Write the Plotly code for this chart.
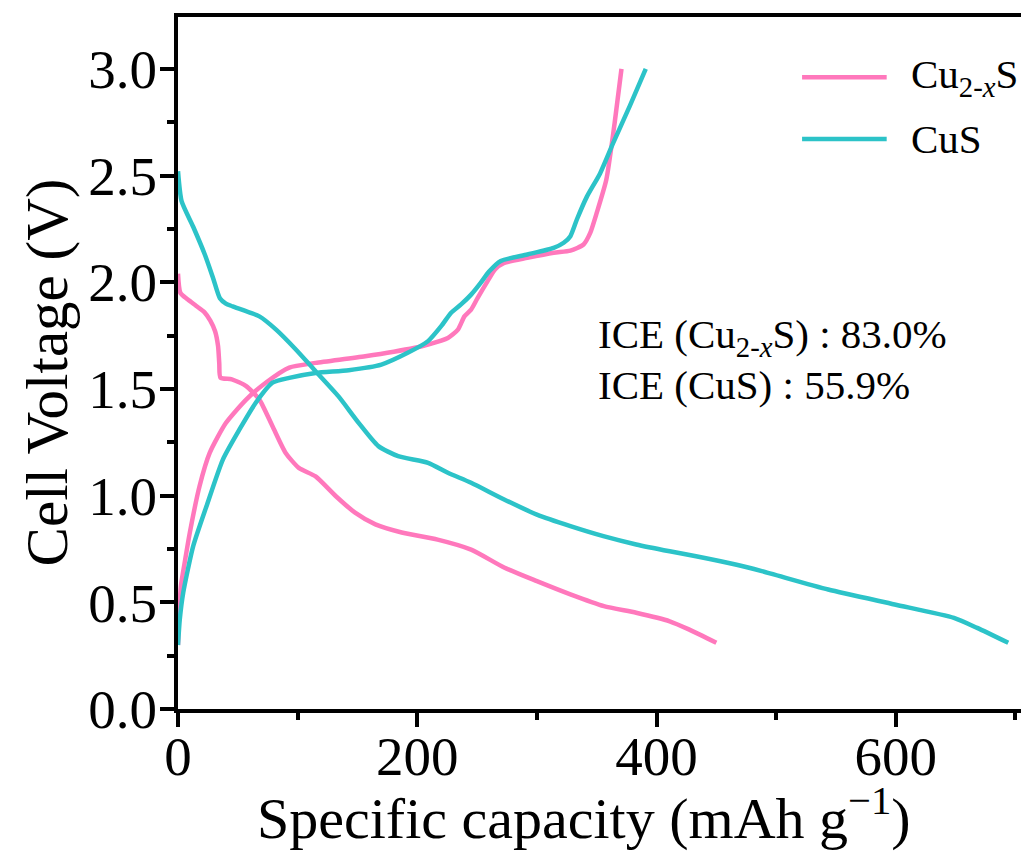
import plotly.graph_objects as go

# ---------------- data ----------------
series_names = ["Cu<sub>2-<i>x</i></sub>S", "CuS"]
series_colors = ["#FF78BC", "#2CC3C8"]

# Cu2-xS discharge
cu2xs_dis_cap = [0, 2, 8, 15, 22, 27, 31, 33.5, 34.5, 35.5, 45, 57, 68, 79, 90, 101, 115, 132,
                 148, 165, 187, 217, 245, 273, 300, 328, 356, 383, 411, 427, 450]
cu2xs_dis_v = [2.04, 1.95, 1.92, 1.89, 1.86, 1.82, 1.77, 1.70, 1.62, 1.553, 1.545, 1.513, 1.45,
               1.325, 1.20, 1.13, 1.09, 0.997, 0.92, 0.865, 0.827, 0.794, 0.747, 0.662, 0.599,
               0.537, 0.482, 0.451, 0.411, 0.373, 0.31]
# Cu2-xS charge
cu2xs_chg_cap = [0, 1, 2.5, 6, 10, 18, 26.5, 40, 57, 73.6, 93, 115, 156.5, 198, 209, 225.6, 234,
                 239.4, 245, 250.5, 258.8, 265, 272.6, 292, 314, 328, 339, 344.5, 350, 358, 365,
                 370.7]
cu2xs_chg_v = [0.30, 0.45, 0.58, 0.70, 0.83, 1.044, 1.20, 1.34, 1.45, 1.53, 1.60, 1.622, 1.653,
               1.693, 1.708, 1.739, 1.778, 1.84, 1.872, 1.927, 2.005, 2.06, 2.09, 2.114, 2.138,
               2.148, 2.177, 2.23, 2.325, 2.48, 2.747, 3.0]
# CuS discharge
cus_dis_cap = [0, 3, 12.7, 22.4, 29.3, 35, 40, 45.6, 68, 82, 98.5, 115, 134, 151, 167.5, 184, 209,
               225.6, 245, 272.6, 300, 328, 355.6, 383, 411, 433, 466, 488, 543.5, 599, 648.6,
               668, 694]
cus_dis_v = [2.52, 2.38, 2.26, 2.13, 2.02, 1.925, 1.90, 1.887, 1.84, 1.778, 1.685, 1.583, 1.466,
             1.341, 1.232, 1.185, 1.154, 1.107, 1.06, 0.982, 0.911, 0.857, 0.81, 0.771, 0.739,
             0.716, 0.677, 0.646, 0.56, 0.49, 0.427, 0.38, 0.31]
# CuS charge
cus_chg_cap = [0, 1.5, 4.4, 12.7, 23.8, 37.6, 51.4, 65, 79, 93, 115, 142.7, 170, 192, 209, 220,
               228.3, 236.6, 245, 253, 260, 269.8, 292, 314, 322.4, 328, 333.4, 341.7, 352.8,
               363.8, 377.6, 391]
cus_chg_v = [0.30, 0.42, 0.546, 0.763, 0.95, 1.17, 1.31, 1.435, 1.529, 1.552, 1.575, 1.588, 1.614,
             1.669, 1.724, 1.794, 1.857, 1.896, 1.942, 1.997, 2.05, 2.10, 2.13, 2.161, 2.185,
             2.216, 2.294, 2.40, 2.51, 2.653, 2.825, 3.0]

ice_texts = ["ICE (Cu<sub>2-<i>x</i></sub>S) : 83.0%", "ICE (CuS) : 55.9%"]
x_title = "Specific capacity (mAh g<sup>−1</sup>)"
y_title = "Cell Voltage (V)"
x_ticks = [0, 200, 400, 600]
y_ticks = [0.0, 0.5, 1.0, 1.5, 2.0, 2.5, 3.0]

FONT = "Liberation Serif, Times New Roman, serif"

fig = go.Figure()
curves = [
    (cu2xs_dis_cap, cu2xs_dis_v, 0),
    (cu2xs_chg_cap, cu2xs_chg_v, 0),
    (cus_dis_cap, cus_dis_v, 1),
    (cus_chg_cap, cus_chg_v, 1),
]
for xs, ys, idx in curves:
    fig.add_trace(go.Scatter(
        x=xs, y=ys, mode="lines",
        line=dict(color=series_colors[idx], width=4.5, shape="spline", smoothing=0.6),
        showlegend=False, hoverinfo="skip",
    ))

axis_common = dict(
    showline=True, linewidth=4, linecolor="black", mirror=True,
    ticks="outside", ticklen=14, tickwidth=4, tickcolor="black",
    showgrid=False, zeroline=False,
    tickfont=dict(family=FONT, size=55, color="black"),
)

fig.update_xaxes(
    range=[0, 708], tickvals=x_ticks, ticklabelstandoff=-18,
    minor=dict(dtick=100, ticks="outside", ticklen=7, tickwidth=4, tickcolor="black", tick0=0),
    **axis_common,
)
fig.update_yaxes(
    range=[0, 3.243], tickvals=y_ticks, tickformat=".1f", ticklabelstandoff=-8,
    minor=dict(dtick=0.25, ticks="outside", ticklen=7, tickwidth=4, tickcolor="black", tick0=0),
    **axis_common,
)

# axis titles as annotations
fig.add_annotation(xref="paper", yref="paper", x=0.479, y=-0.153, text=x_title,
                   showarrow=False, xanchor="center", yanchor="middle",
                   font=dict(family=FONT, size=58, color="black"))
fig.add_annotation(xref="paper", yref="paper", x=-0.155, y=0.486, text=y_title,
                   showarrow=False, xanchor="center", yanchor="middle", textangle=-90,
                   font=dict(family=FONT, size=59, color="black"))

# manual legend
legend_y = [0.913, 0.8237]
for i, name in enumerate(series_names):
    fig.add_shape(type="line", xref="paper", yref="paper",
                  x0=0.7368, x1=0.8367, y0=legend_y[i], y1=legend_y[i],
                  line=dict(color=series_colors[i], width=4.5))
    fig.add_annotation(xref="paper", yref="paper", x=0.8625, y=legend_y[i],
                       text=name, showarrow=False, xanchor="left", yanchor="middle",
                       font=dict(family=FONT, size=41, color="black"))

# ICE annotations
ice_y = [1.745, 1.52]
for t, yy in zip(ice_texts, ice_y):
    fig.add_annotation(x=349, y=yy, text=t, showarrow=False, xanchor="left", yanchor="middle",
                       font=dict(family=FONT, size=41, color="black"))

# the page body has an 8px margin: size the figure so the plot lands where the reference has it
fig.update_layout(
    width=1021, height=846,
    margin=dict(l=170, r=0, t=9, b=145),
    paper_bgcolor="white", plot_bgcolor="white",
    showlegend=False,
)

fig.write_html("out.html")
